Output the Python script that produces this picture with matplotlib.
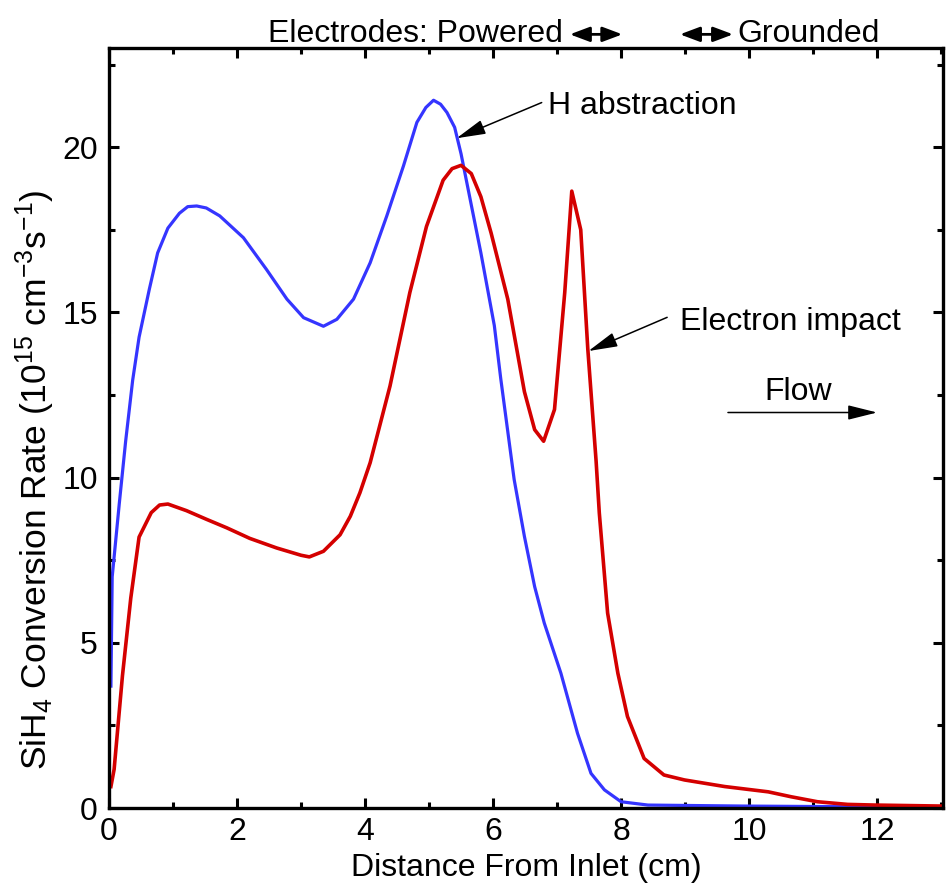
import matplotlib
matplotlib.use('Agg')
import matplotlib.pyplot as plt
from matplotlib.ticker import MultipleLocator
from matplotlib.transforms import blended_transform_factory

plt.rcParams['font.family'] = ['Liberation Sans', 'DejaVu Sans']
plt.rcParams['mathtext.default'] = 'regular'

# H abstraction (blue)
x_h = [0.03, 0.05, 0.16, 0.26, 0.37, 0.47, 0.63, 0.76, 0.92, 1.1, 1.23, 1.37,
       1.52, 1.73, 2.1, 2.46, 2.78, 3.04, 3.35, 3.56, 3.82, 4.08, 4.34, 4.6,
       4.81, 4.95, 5.07, 5.18, 5.28, 5.4, 5.5, 5.81, 6.02, 6.12, 6.33, 6.49,
       6.65, 6.8, 7.06, 7.32, 7.53, 7.74, 8.0, 8.42, 9.9, 11.5, 13.0]
y_h = [3.69, 7.0, 9.2, 11.1, 12.95, 14.25, 15.7, 16.8, 17.55, 18.0, 18.2, 18.22,
       18.16, 17.92, 17.26, 16.3, 15.4, 14.84, 14.58, 14.79, 15.4, 16.5, 17.92, 19.43,
       20.75, 21.2, 21.42, 21.3, 21.05, 20.6, 19.8, 16.8, 14.6, 13.0, 9.94, 8.22,
       6.7, 5.6, 4.08, 2.26, 1.05, 0.55, 0.19, 0.09, 0.06, 0.04, 0.03]

# Electron impact (red)
x_e = [0.03, 0.08, 0.21, 0.34, 0.47, 0.66, 0.79, 0.92, 1.21, 1.52, 1.84, 2.2,
       2.62, 3.0, 3.13, 3.35, 3.61, 3.77, 3.92, 4.08, 4.39, 4.7, 4.96, 5.22,
       5.36, 5.5, 5.66, 5.81, 5.97, 6.23, 6.49, 6.65, 6.79, 6.96, 7.12, 7.23,
       7.37, 7.48, 7.61, 7.66, 7.79, 7.95, 8.1, 8.36, 8.67, 8.99, 9.62, 10.3,
       10.66, 11.07, 11.54, 11.96, 13.0]
y_e = [0.65, 1.17, 4.0, 6.35, 8.2, 8.94, 9.17, 9.2, 9.0, 8.74, 8.48, 8.16,
       7.87, 7.65, 7.6, 7.77, 8.27, 8.83, 9.54, 10.45, 12.77, 15.6, 17.6, 19.0,
       19.35, 19.45, 19.2, 18.5, 17.4, 15.4, 12.6, 11.45, 11.1, 12.06, 15.6, 18.67,
       17.5, 13.9, 10.5, 8.93, 5.9, 4.08, 2.77, 1.5, 1.0, 0.85, 0.65, 0.49,
       0.34, 0.19, 0.11, 0.09, 0.06]

head = dict(arrowstyle='-|>,head_length=1.2,head_width=0.3', mutation_scale=15,
            color='black', lw=1.1, shrinkA=0, shrinkB=0)
dbl = dict(arrowstyle='<|-|>,head_length=0.8,head_width=0.3', mutation_scale=15,
           color='black', lw=2, shrinkA=0, shrinkB=0)


def main():
    fig = plt.figure(figsize=(9.47, 8.83), dpi=100)
    ax = fig.add_axes([0.1151, 0.0849, 0.8807, 0.8607])

    ax.plot(x_h, y_h, color='#3535ff', lw=2.3)
    ax.plot(x_e, y_e, color='#d40000', lw=2.6)

    ax.set_xlim(0, 13.03)
    ax.set_ylim(0, 23)
    ax.xaxis.set_major_locator(MultipleLocator(2))
    ax.xaxis.set_minor_locator(MultipleLocator(1))
    ax.yaxis.set_major_locator(MultipleLocator(5))
    ax.yaxis.set_minor_locator(MultipleLocator(2.5))
    ax.tick_params(which='both', direction='in', top=True, right=True, width=2.2)
    ax.tick_params(which='major', length=7.5)
    ax.tick_params(which='minor', length=4)
    ax.tick_params(axis='x', labelsize=23, pad=6.5)
    ax.tick_params(axis='y', labelsize=23, pad=8)
    for s in ax.spines.values():
        s.set_linewidth(2.4)

    ax.set_xlabel('Distance From Inlet (cm)', fontsize=23, labelpad=4)
    ax.set_ylabel('SiH$_4$ Conversion Rate (10$^{15}$ cm$^{-3}$s$^{-1}$)', fontsize=25.5)
    ax.yaxis.set_label_coords(-0.0624, 0.4316)

    # curve labels
    ax.annotate('', xy=(5.43, 20.27), xytext=(6.76, 21.35), arrowprops=head)
    ax.text(6.86, 21.0, 'H abstraction', fontsize=23, va='baseline')
    ax.annotate('', xy=(7.49, 13.83), xytext=(8.72, 14.85), arrowprops=head)
    ax.text(8.92, 14.48, 'Electron impact', fontsize=23, va='baseline')
    ax.annotate('', xy=(12.0, 11.97), xytext=(9.67, 11.97), arrowprops=head)
    ax.text(10.76, 12.36, 'Flow', fontsize=23, ha='center', va='baseline')

    # electrodes above the frame
    tr = blended_transform_factory(ax.transData, ax.transAxes)
    ax.text(7.09, 1.008, 'Electrodes: Powered', fontsize=23, ha='right',
            va='baseline', transform=tr)
    ax.text(9.81, 1.008, 'Grounded', fontsize=23, ha='left', va='baseline',
            transform=tr)
    ax.annotate('', xy=(7.2, 1.018), xytext=(8.02, 1.018), xycoords=tr,
                textcoords=tr, arrowprops=dbl, annotation_clip=False)
    ax.annotate('', xy=(8.92, 1.018), xytext=(9.75, 1.018), xycoords=tr,
                textcoords=tr, arrowprops=dbl, annotation_clip=False)

    fig.savefig('out.png', dpi=100)
    plt.close(fig)


if __name__ == '__main__':
    main()
